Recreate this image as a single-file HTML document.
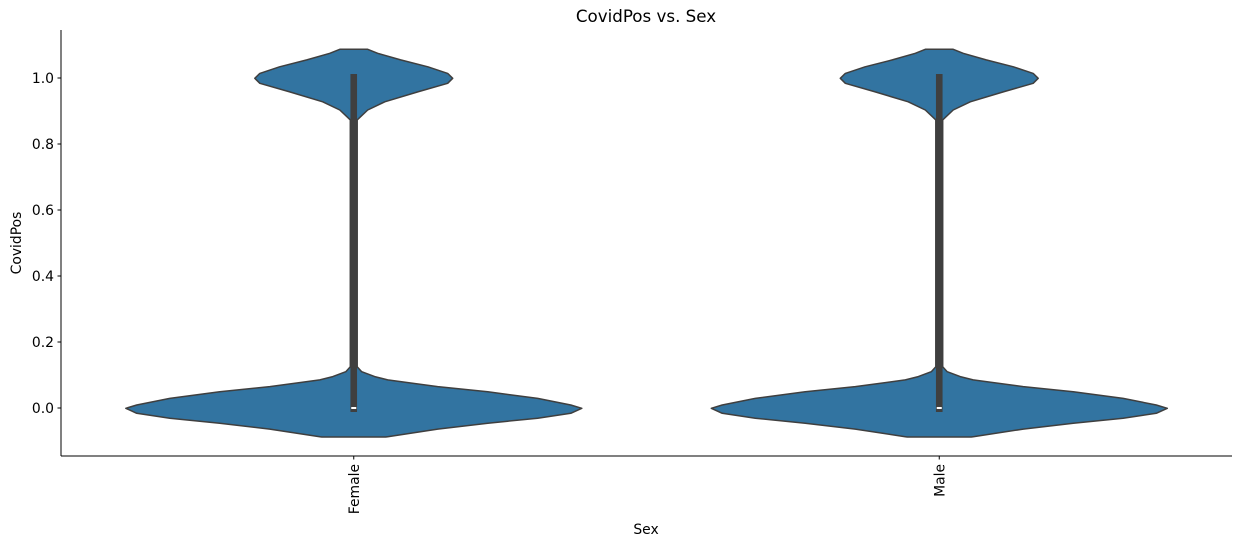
<!DOCTYPE html>
<html><head><meta charset="utf-8"><style>
body{margin:0;background:#fff;}
svg text{font-family:"DejaVu Sans","Liberation Sans",sans-serif;fill:#000;}
</style></head><body>
<svg id="chart" width="1258" height="546" xmlns="http://www.w3.org/2000/svg">
<text x="646" y="22" font-size="16.7" text-anchor="middle">CovidPos vs. Sex</text>
<g id="plot"></g>
<line x1="61" y1="30" x2="61" y2="456" stroke="#000" stroke-width="1"/>
<line x1="61" y1="456" x2="1232" y2="456" stroke="#000" stroke-width="1"/>
<g id="yticks"></g>
<g id="xticks"></g>
<text x="0" y="0" font-size="13.9" text-anchor="middle" transform="translate(21,243) rotate(-90)">CovidPos</text>
<text x="646" y="534" font-size="13.9" text-anchor="middle">Sex</text>
</svg>
<script>
const categories = ["Female", "Male"];
const yTicks = [0.0, 0.2, 0.4, 0.6, 0.8, 1.0];
const yTickLabels = ["0.0", "0.2", "0.4", "0.6", "0.8", "1.0"];
// density profile (value, relative half-width) per category
const densityValues = [-0.088, -0.087, -0.064, -0.046, -0.031, -0.016, -0.001, 0.009, 0.029, 0.049, 0.065, 0.085, 0.095, 0.11, 0.125, 0.873, 0.903, 0.928, 0.958, 0.984, 0.999, 1.014, 1.034, 1.055, 1.075, 1.087];
const femaleWidths = [0.14, 0.149, 0.368, 0.588, 0.807, 0.952, 1.0, 0.952, 0.807, 0.588, 0.368, 0.149, 0.092, 0.035, 0.015, 0.015, 0.061, 0.136, 0.281, 0.412, 0.434, 0.412, 0.325, 0.206, 0.105, 0.061];
const maleWidths = [0.14, 0.149, 0.368, 0.588, 0.807, 0.952, 1.0, 0.952, 0.807, 0.588, 0.368, 0.149, 0.092, 0.035, 0.015, 0.015, 0.061, 0.136, 0.281, 0.412, 0.434, 0.412, 0.325, 0.206, 0.105, 0.061];
const widths = [femaleWidths, maleWidths];
const boxLow = [0.0, 0.0], boxHigh = [1.0, 1.0], medians = [0.0, 0.0];

const NS = "http://www.w3.org/2000/svg";
const X0 = 61, X1 = 1232;
const yScale = v => 408 - 330 * v;
const xScale = i => X0 + (X1 - X0) * (i + 0.5) / categories.length;
const maxHW = 228;
const plot = document.getElementById('plot');
const yt = document.getElementById('yticks');
const xt = document.getElementById('xticks');
function mk(tag, attrs, parent) { const e = document.createElementNS(NS, tag); for (const k in attrs) e.setAttribute(k, attrs[k]); parent.appendChild(e); return e; }

yTicks.forEach((v, i) => {
  const y = yScale(v);
  const l = mk('line', {x1: 57.5, x2: 61, y1: y, y2: y, stroke: '#000'}, yt);
  
  
  const t = mk('text', {x: 54, y: y + 5, 'font-size': 13.9, 'text-anchor': 'end'}, yt);
  t.textContent = yTickLabels[i];
  
  
});

categories.forEach((c, i) => {
  const cx = xScale(i);
  const w = widths[i];
  let pts = [];
  densityValues.forEach((v, j) => pts.push([cx + w[j] * maxHW, yScale(v)]));
  for (let j = densityValues.length - 1; j >= 0; j--) pts.push([cx - w[j] * maxHW, yScale(densityValues[j])]);
  const p = mk('polygon', {points: pts.map(q => q.map(n => n.toFixed(1)).join(',')).join(' '), fill: '#3274a1', stroke: '#3f3f3f', 'stroke-width': 1.5, 'stroke-linejoin': 'round'}, plot);
  
  
  const b = mk('rect', {x: cx - 3.3, y: yScale(boxHigh[i]) - 4, width: 6.6, height: yScale(boxLow[i]) - yScale(boxHigh[i]) + 8, fill: '#3f3f3f'}, plot);
  
  
  const m = mk('rect', {x: cx - 2.5, y: yScale(medians[i]) - 1, width: 5, height: 2, fill: '#fff'}, plot);
  
  
  const tk = mk('line', {x1: cx, x2: cx, y1: 456, y2: 459.5, stroke: '#000'}, xt);
  
  
  const t = mk('text', {x: 0, y: 0, 'font-size': 13.9, 'text-anchor': 'end', transform: `translate(${cx + 5},464) rotate(-90)`}, xt);
  t.textContent = c;
  
  
});
</script>
</body></html>
